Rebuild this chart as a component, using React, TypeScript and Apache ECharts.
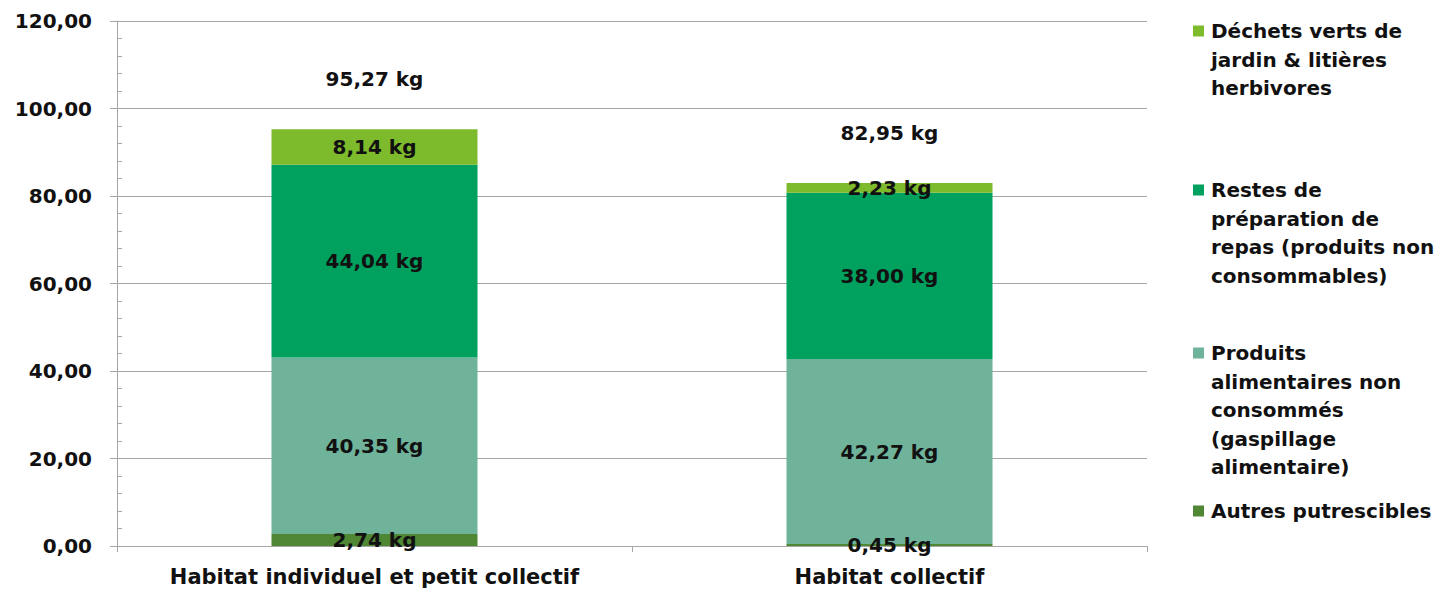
import React, { useEffect, useRef } from "react";
import * as echarts from "echarts";

const categories = ["Habitat individuel et petit collectif", "Habitat collectif"];
const seriesNames = [
  "Autres putrescibles",
  "Produits alimentaires non consommés (gaspillage alimentaire)",
  "Restes de préparation de repas (produits non consommables)",
  "Déchets verts de jardin & litières herbivores",
];
const legendLines = [
  ["Autres putrescibles"],
  ["Produits", "alimentaires non", "consommés", "(gaspillage", "alimentaire)"],
  ["Restes de", "préparation de", "repas (produits non", "consommables)"],
  ["Déchets verts de", "jardin & litières", "herbivores"],
];
const autres = [2.74, 0.45];
const produits = [40.35, 42.27];
const restes = [44.04, 38.0];
const dechets = [8.14, 2.23];
const totals = [95.27, 82.95];
const seriesValues = [autres, produits, restes, dechets];
const colors = ["#4f8734", "#6fb39a", "#00a05f", "#7dba2c"];
const legendTop = [511, 353, 190, 31];

const FONT = "DejaVu Sans";
const fmt = (v: number) => v.toFixed(2).replace(".", ",") + " kg";

export default function App() {
  const ref = useRef<HTMLDivElement>(null);
  useEffect(() => {
    if (!ref.current) return;
    const chart = echarts.init(ref.current, null, { renderer: "svg" });
    const graphic: any[] = [];
    seriesNames.forEach((_, i) => {
      const cy = legendTop[i];
      graphic.push({
        type: "rect",
        shape: { x: 1193, y: cy - 5.5, width: 11, height: 11 },
        style: { fill: colors[i] },
      });
      graphic.push({
        type: "text",
        x: 1211,
        y: cy - 14,
        style: {
          text: legendLines[i].join("\n"),
          font: `bold 20px "${FONT}"`,
          fill: "#111",
          lineHeight: 28.5,
          verticalAlign: "top",
        },
      });
    });
    chart.setOption({
      animation: false,
      grid: { left: 117, right: 302, top: 21, bottom: 43, containLabel: false },
      xAxis: {
        type: "category",
        data: categories,
        axisLine: { lineStyle: { color: "#a6a6a6", width: 1 } },
        axisTick: { show: true, length: 6, alignWithLabel: false, lineStyle: { color: "#a6a6a6" } },
        axisLabel: {
          interval: 0,
          hideOverlap: false,
          color: "#111",
          fontFamily: FONT,
          fontWeight: "bold",
          fontSize: 21,
          margin: 20,
        },
      },
      yAxis: [
        {
          type: "value",
          min: 0,
          max: 120,
          interval: 20,
          position: "left",
          axisLine: { show: true, lineStyle: { color: "#a6a6a6", width: 1 } },
          axisTick: { show: true, length: 7, lineStyle: { color: "#a6a6a6" } },
          splitLine: { show: true, lineStyle: { color: "#a6a6a6", width: 1 } },
          axisLabel: {
            color: "#111",
            fontFamily: FONT,
            fontWeight: "bold",
            fontSize: 20,
            margin: 25,
            formatter: (v: number) => v.toFixed(2).replace(".", ","),
          },
        },
        {
          type: "value",
          min: 0,
          max: 120,
          interval: 20,
          position: "left",
          offset: 0,
          axisLine: { show: false },
          axisTick: { show: false, inside: true },
          minorTick: { show: true, splitNumber: 5, length: 5, lineStyle: { color: "#a6a6a6" } },
          splitLine: { show: false },
          axisLabel: { show: false },
        },
      ],
      series: [
        ...seriesNames.map((name, i) => ({
          type: "bar",
          name,
          stack: "total",
          data: seriesValues[i],
          barWidth: "40%",
          itemStyle: { color: colors[i] },
          label: {
            show: true,
            position: "inside",
            color: "#111",
            fontFamily: FONT,
            fontWeight: "bold",
            fontSize: 20,
            formatter: (p: any) => fmt(p.value),
          },
        })),
        {
          type: "scatter",
          name: "Total",
          data: totals,
          symbolSize: 1,
          itemStyle: { color: "rgba(0,0,0,0)", opacity: 1 },
          label: {
            show: true,
            position: "top",
            distance: 40,
            color: "#111",
            fontFamily: FONT,
            fontWeight: "bold",
            fontSize: 20,
            formatter: (p: any) => fmt(p.value),
          },
        },
      ],
      graphic,
    });
    return () => chart.dispose();
  }, []);
  return (
    <div
      ref={ref}
      style={{ position: "fixed", left: 0, top: 0, width: 1449, height: 589, background: "#fff" }}
    />
  );
}
